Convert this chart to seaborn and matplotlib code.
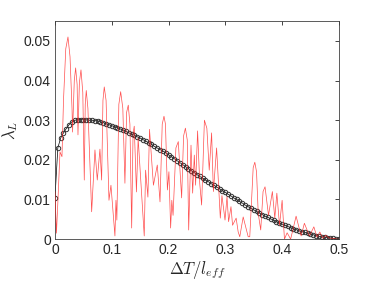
import numpy as np
import matplotlib
matplotlib.use("Agg")
import matplotlib.pyplot as plt
import seaborn as sns

# averaged curve (black circles), one value every 0.005
mean_x = np.arange(101) * 0.005
mean_y = [
    0.0104, 0.0230, 0.0255, 0.0268, 0.0279, 0.0289, 0.0296, 0.0300, 0.0301, 0.0301,
    0.0301, 0.0301, 0.0300, 0.0300, 0.0299, 0.0298, 0.0296, 0.0294, 0.0291, 0.0289,
    0.0286, 0.0284, 0.0281, 0.0278, 0.0275, 0.0272, 0.0268, 0.0265, 0.0262, 0.0258,
    0.0255, 0.0251, 0.0247, 0.0243, 0.0239, 0.0234, 0.0230, 0.0226, 0.0222, 0.0218,
    0.0213, 0.0208, 0.0203, 0.0198, 0.0193, 0.0188, 0.0183, 0.0178, 0.0173, 0.0168,
    0.0163, 0.0158, 0.0154, 0.0149, 0.0145, 0.0140, 0.0136, 0.0131, 0.0127, 0.0122,
    0.0118, 0.0113, 0.0109, 0.0104, 0.0100, 0.0095, 0.0091, 0.0086, 0.0082, 0.0078,
    0.0074, 0.0070, 0.0066, 0.0062, 0.0058, 0.0055, 0.0051, 0.0048, 0.0044, 0.0041,
    0.0038, 0.0035, 0.0032, 0.0029, 0.0026, 0.0024, 0.0021, 0.0019, 0.0017, 0.0015,
    0.0013, 0.0011, 0.0009, 0.0007, 0.0006, 0.0005, 0.0004, 0.0003, 0.0002, 0.0001,
    0.0000,
]

# instantaneous curve (red), peaks, shoulders and troughs
inst_x = [
    0.0000, 0.0026, 0.0053, 0.0088, 0.0123, 0.0150, 0.0190, 0.0229, 0.0265, 0.0300,
    0.0310, 0.0340, 0.0364, 0.0390, 0.0405, 0.0430, 0.0458, 0.0490, 0.0516, 0.0533,
    0.0551, 0.0580, 0.0646, 0.0704, 0.0745, 0.0792, 0.0822, 0.0845, 0.0868, 0.0900,
    0.0951, 0.0986, 0.1056, 0.1074, 0.1090, 0.1125, 0.1157, 0.1195, 0.1232, 0.1262,
    0.1291, 0.1320, 0.1351, 0.1375, 0.1396, 0.1435, 0.1465, 0.1572, 0.1596, 0.1637,
    0.1665, 0.1734, 0.1802, 0.1850, 0.1889, 0.1920, 0.1946, 0.1980, 0.2007, 0.2037,
    0.2058, 0.2080, 0.2130, 0.2172, 0.2231, 0.2265, 0.2297, 0.2330, 0.2355, 0.2396,
    0.2425, 0.2454, 0.2477, 0.2512, 0.2550, 0.2583, 0.2632, 0.2675, 0.2717, 0.2759,
    0.2790, 0.2847, 0.2912, 0.2941, 0.2995, 0.3030, 0.3058, 0.3100, 0.3128, 0.3191,
    0.3227, 0.3255, 0.3315, 0.3403, 0.3431, 0.3491, 0.3520, 0.3550, 0.3580, 0.3624,
    0.3665, 0.3700, 0.3761, 0.3829, 0.3872, 0.3908, 0.3955, 0.4001, 0.4042, 0.4089,
    0.4151, 0.4247, 0.4336, 0.4393, 0.4482, 0.4560, 0.4615, 0.4665, 0.4718, 0.4771,
    0.4824, 0.4894, 0.4965, 0.5000,
]
inst_y = [
    0.0120, 0.0015, 0.0100, 0.0220, 0.0208, 0.0350, 0.0480, 0.0510, 0.0460, 0.0330,
    0.0270, 0.0400, 0.0432, 0.0390, 0.0263, 0.0395, 0.0427, 0.0370, 0.0149, 0.0340,
    0.0375, 0.0330, 0.0069, 0.0225, 0.0149, 0.0227, 0.0149, 0.0350, 0.0384, 0.0350,
    0.0098, 0.0136, 0.0008, 0.0098, 0.0048, 0.0340, 0.0372, 0.0330, 0.0141, 0.0320,
    0.0338, 0.0290, 0.0028, 0.0265, 0.0285, 0.0119, 0.0255, 0.0008, 0.0174, 0.0106,
    0.0277, 0.0136, 0.0187, 0.0094, 0.0290, 0.0310, 0.0290, 0.0124, 0.0170, 0.0028,
    0.0098, 0.0060, 0.0230, 0.0246, 0.0104, 0.0260, 0.0280, 0.0250, 0.0023, 0.0237,
    0.0116, 0.0212, 0.0136, 0.0273, 0.0140, 0.0086, 0.0300, 0.0280, 0.0174, 0.0268,
    0.0120, 0.0230, 0.0053, 0.0110, 0.0048, 0.0107, 0.0044, 0.0082, 0.0035, 0.0053,
    0.0018, 0.0006, 0.0056, 0.0006, 0.0006, 0.0180, 0.0194, 0.0170, 0.0065, 0.0023,
    0.0120, 0.0132, 0.0060, 0.0120, 0.0053, 0.0116, 0.0035, 0.0098, 0.0000, 0.0016,
    0.0000, 0.0058, 0.0008, 0.0040, 0.0008, 0.0031, 0.0005, 0.0018, 0.0002, 0.0010,
    0.0003, 0.0002, 0.0000, 0.0000,
]

sns.set_style("white")
plt.rcParams["mathtext.fontset"] = "cm"
plt.rcParams["font.family"] = ["Liberation Sans", "DejaVu Sans"]

fig = plt.figure(figsize=(3.74, 2.81), dpi=100)
ax = fig.add_axes([0.147, 0.149, 0.759, 0.776])

sns.lineplot(x=inst_x, y=inst_y, ax=ax, color="#ff2020", linewidth=0.5,
             alpha=0.8, sort=False, zorder=3)
sns.lineplot(x=mean_x, y=mean_y, ax=ax, color="black", linewidth=0.5,
             marker="o", markersize=3.2, markerfacecolor="none",
             markeredgecolor="#333333", markeredgewidth=0.7, zorder=2)

ax.set_xlim(0, 0.5)
ax.set_ylim(0, 0.055)
ax.set_xticks([0, 0.1, 0.2, 0.3, 0.4, 0.5])
ax.set_xticklabels(["0", "0.1", "0.2", "0.3", "0.4", "0.5"])
ax.set_yticks([0, 0.01, 0.02, 0.03, 0.04, 0.05])
ax.set_yticklabels(["0", "0.01", "0.02", "0.03", "0.04", "0.05"])
ax.tick_params(direction="in", length=3, width=0.6, top=True, right=True,
               labelsize=10, colors="#262626", pad=3)
for s in ax.spines.values():
    s.set_visible(True)
    s.set_color("#404040")
    s.set_linewidth(0.6)

ax.set_xlabel(r"$\Delta T/l_{eff}$", fontsize=12, labelpad=1)
ax.set_ylabel(r"$\lambda_L$", fontsize=12, labelpad=3)

fig.savefig("out.png", dpi=100)
